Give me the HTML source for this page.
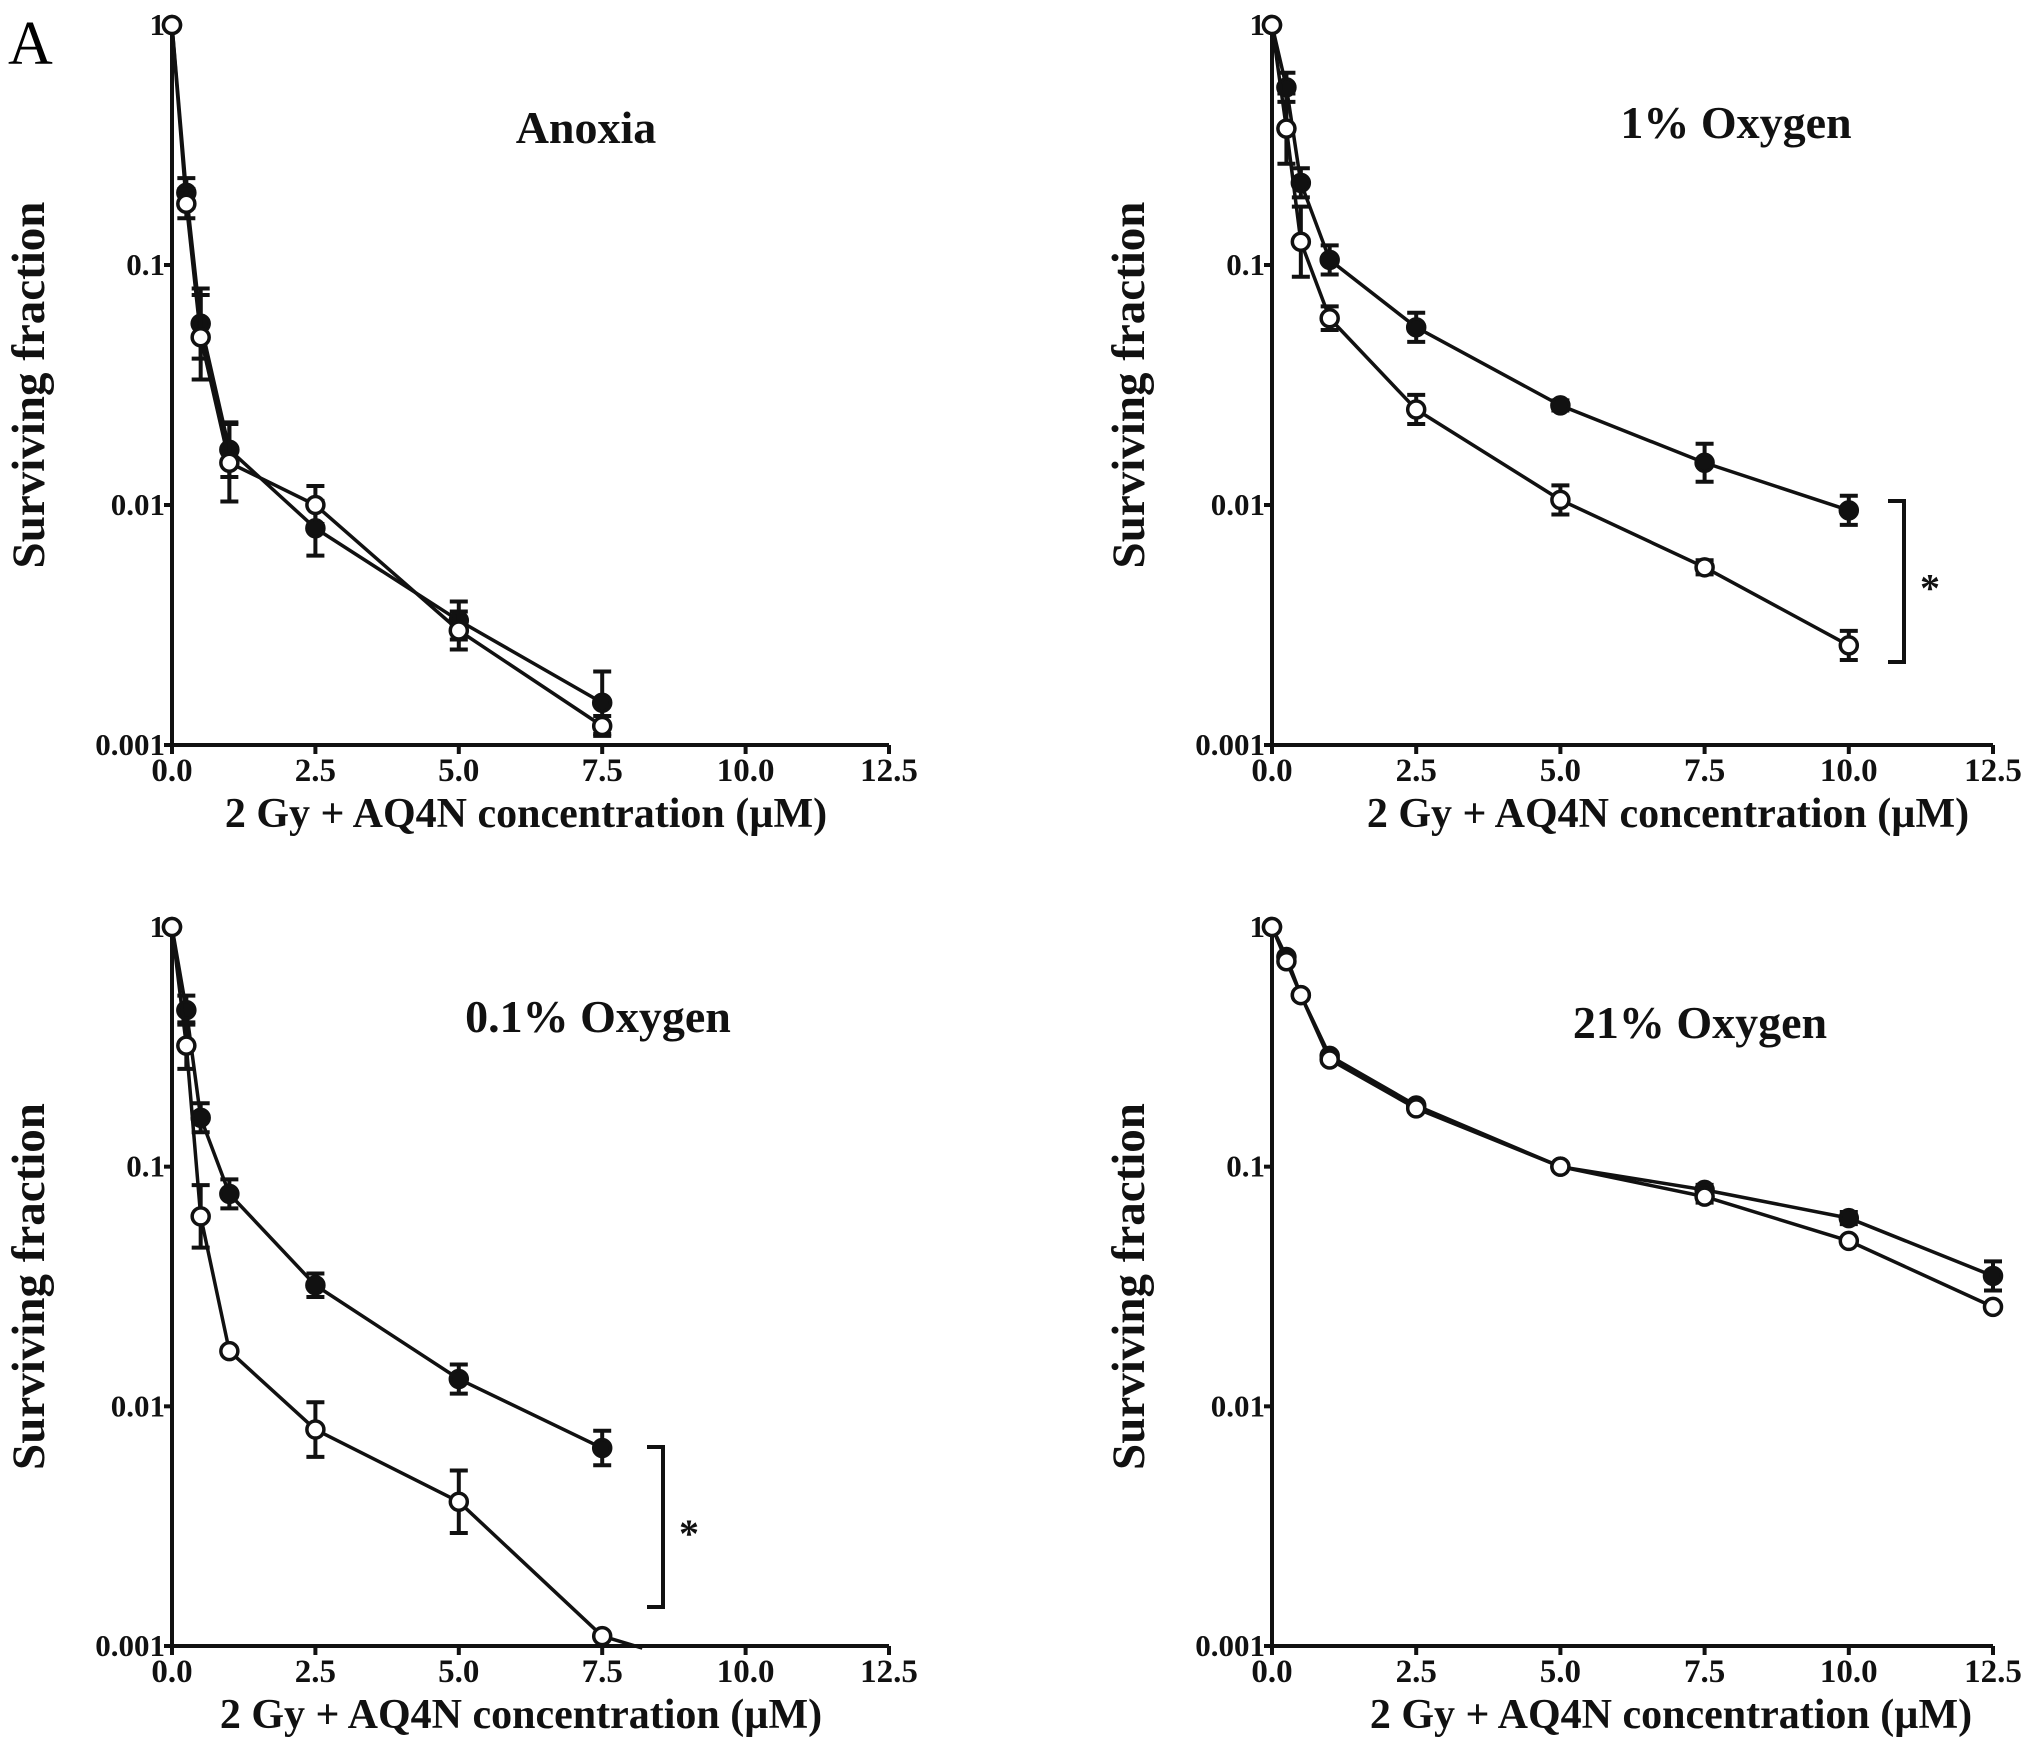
<!DOCTYPE html>
<html><head><meta charset="utf-8"><style>
html,body{margin:0;padding:0;background:#fff;}
svg{display:block;font-family:"Liberation Serif",serif;}
</style></head><body>
<svg id="fig" width="2031" height="1748" viewBox="0 0 2031 1748">
<text x="8" y="64" font-size="62">A</text>
</svg>
<script>
// ---- data ----
const anoxiaX = [0, 0.25, 0.5, 1, 2.5, 5, 7.5];
const anoxiaFilled = [1, 0.2, 0.057, 0.017, 0.008, 0.0033, 0.0015];
const anoxiaOpen = [1, 0.18, 0.05, 0.015, 0.01, 0.003, 0.0012];
const anoxiaFilledErr = [1, 1.15, 1.4, 1.3, 1.3, 1.2, 1.35];
const anoxiaOpenErr = [1, 1.15, 1.5, 1.45, 1.2, 1.2, 1.1];

const o1X = [0, 0.25, 0.5, 1, 2.5, 5, 7.5, 10];
const o1Filled = [1, 0.55, 0.22, 0.105, 0.055, 0.026, 0.015, 0.0095];
const o1Open = [1, 0.37, 0.125, 0.06, 0.025, 0.0105, 0.0055, 0.0026];
const o1FilledErr = [1, 1.15, 1.15, 1.15, 1.15, 1.05, 1.2, 1.15];
const o1OpenErr = [1, 1.4, 1.4, 1.12, 1.15, 1.15, 1.07, 1.15];

const o01X = [0, 0.25, 0.5, 1, 2.5, 5, 7.5, 8.2];
const o01Filled = [1, 0.45, 0.16, 0.077, 0.032, 0.013, 0.0067];
const o01Open = [1, 0.32, 0.062, 0.017, 0.008, 0.004, 0.0011, 0.00098];
const o01FilledErr = [1, 1.15, 1.15, 1.15, 1.12, 1.15, 1.18];
const o01OpenErr = [1, 1.25, 1.35, 1.03, 1.3, 1.35, 1.02, 1];

const o21X = [0, 0.25, 0.5, 1, 2.5, 5, 7.5, 10, 12.5];
const o21Filled = [1, 0.75, 0.52, 0.29, 0.18, 0.1, 0.08, 0.061, 0.035];
const o21Open = [1, 0.72, 0.52, 0.28, 0.175, 0.1, 0.075, 0.049, 0.026];
const o21FilledErr = [1, 1.03, 1.03, 1.03, 1.03, 1.03, 1.05, 1.06, 1.15];
const o21OpenErr = [1, 1.03, 1.03, 1.03, 1.03, 1.03, 1.06, 1.03, 1.03];

const xTicks = [0, 2.5, 5, 7.5, 10, 12.5];
const xTickLabels = ["0.0", "2.5", "5.0", "7.5", "10.0", "12.5"];
const yTicks = [1, 0.1, 0.01, 0.001];
const yTickLabels = ["1", "0.1", "0.01", "0.001"];

const NS = "http://www.w3.org/2000/svg";
const svg = document.getElementById("fig");
function mk(tag, attrs, parent) {
  const e = document.createElementNS(NS, tag);
  for (const k in attrs) e.setAttribute(k, attrs[k]);
  (parent || svg).appendChild(e);
  return e;
}

function panel(cfg) {
  const g = mk("g", {});
  
  
  const x0 = cfg.x0, x1 = cfg.x1, y0 = cfg.y0, y1 = cfg.y1;
  const sx = v => x0 + (v / 12.5) * (x1 - x0);
  const sy = v => y0 + (-Math.log10(v) / 3) * (y1 - y0);
  const ax = mk("path", {d: `M${x0} ${y0} V${y1} H${x1}`, stroke: "#111", "stroke-width": 4, fill: "none"}, g);
  
  
  xTicks.forEach((t, i) => {
    mk("line", {x1: sx(t), x2: sx(t), y1: y1, y2: y1 + 9, stroke: "#111", "stroke-width": 4}, g);
    const tl = mk("text", {x: sx(t), y: y1 + 36, "font-size": 33, "font-weight": "bold", "text-anchor": "middle", fill: "#111"}, g);
    tl.textContent = xTickLabels[i];
    
    
  });
  yTicks.forEach((t, i) => {
    mk("line", {x1: x0 - 8, x2: x0, y1: sy(t), y2: sy(t), stroke: "#111", "stroke-width": 4}, g);
    const tl = mk("text", {x: x0 - 7, y: sy(t) + 10, "font-size": 31, "font-weight": "bold", "text-anchor": "end", fill: "#111"}, g);
    tl.textContent = yTickLabels[i];
    
    
  });
  const yl = mk("text", {x: 0, y: 0, transform: `translate(${x0 - 128},${(y0 + y1) / 2}) rotate(-90)`, "font-size": 47, "font-weight": "bold", "text-anchor": "middle", fill: "#111"}, g);
  yl.textContent = "Surviving fraction";
  
  
  const xl = mk("text", {x: cfg.xlx, y: y1 + 82, "font-size": 42, "font-weight": "bold", "text-anchor": "middle", fill: "#111"}, g);
  xl.textContent = "2 Gy + AQ4N concentration (\u00b5M)";
  
  
  const tt = mk("text", {x: cfg.tx, y: cfg.ty, "font-size": 46, "font-weight": "bold", "text-anchor": "middle", fill: "#111"}, g);
  tt.textContent = cfg.title;
  
  

  function series(xs, ys, errs, filled, nm) {
    const n = ys.length;
    let d = "";
    for (let i = 0; i < n; i++) d += (i ? "L" : "M") + sx(xs[i]) + " " + sy(ys[i]);
    const ln = mk("path", {d: d, stroke: "#111", "stroke-width": 3.5, fill: "none"}, g);
    
    
    for (let i = 0; i < n; i++) {
      const f = errs[i] || 1;
      if (f > 1.02) {
        const cx = sx(xs[i]), hi = sy(ys[i] * f), lo = sy(ys[i] / f);
        const eb = mk("path", {d: `M${cx} ${hi}V${lo}M${cx - 9} ${hi}H${cx + 9}M${cx - 9} ${lo}H${cx + 9}`, stroke: "#111", "stroke-width": 4, fill: "none"}, g);
        
        
      }
    }
    for (let i = 0; i < n; i++) {
      if (ys[i] < 0.001) continue;
      const c = mk("circle", {cx: sx(xs[i]), cy: sy(ys[i]), r: 8.5, fill: filled ? "#111" : "#fff", stroke: "#111", "stroke-width": 3.5}, g);
      
      
    }
  }
  series(cfg.xs, cfg.filled, cfg.fErr, true, "filled-series");
  series(cfg.xs, cfg.open, cfg.oErr, false, "open-series");
  if (cfg.br) {
    const b = cfg.br;
    const bp = mk("path", {d: `M${b.x} ${b.ya}H${b.x + 16}V${b.yb}H${b.x}`, stroke: "#111", "stroke-width": 4, fill: "none"}, g);
    
    
    const st = mk("text", {x: b.x + 42, y: (b.ya + b.yb) / 2 + 20, "font-size": 40, "font-weight": "bold", "text-anchor": "middle", fill: "#111"}, g);
    st.textContent = "*";
    
    
  }
}

panel({name: "panel-anoxia", x0: 172, x1: 889, y0: 25, y1: 745, title: "Anoxia", tx: 586, ty: 143, xlx: 526,
  xs: anoxiaX, filled: anoxiaFilled, open: anoxiaOpen, fErr: anoxiaFilledErr, oErr: anoxiaOpenErr});
panel({name: "panel-1pct-oxygen", x0: 1272, x1: 1993, y0: 25, y1: 745, title: "1% Oxygen", tx: 1736, ty: 138, xlx: 1668,
  xs: o1X, filled: o1Filled, open: o1Open, fErr: o1FilledErr, oErr: o1OpenErr,
  br: {x: 1888, ya: 501, yb: 662}});
panel({name: "panel-0.1pct-oxygen", x0: 172, x1: 889, y0: 927, y1: 1646, title: "0.1% Oxygen", tx: 598, ty: 1032, xlx: 521,
  xs: o01X, filled: o01Filled, open: o01Open, fErr: o01FilledErr, oErr: o01OpenErr,
  br: {x: 647, ya: 1447, yb: 1607}});
panel({name: "panel-21pct-oxygen", x0: 1272, x1: 1993, y0: 927, y1: 1646, title: "21% Oxygen", tx: 1700, ty: 1038, xlx: 1671,
  xs: o21X, filled: o21Filled, open: o21Open, fErr: o21FilledErr, oErr: o21OpenErr});
</script>
</body></html>
